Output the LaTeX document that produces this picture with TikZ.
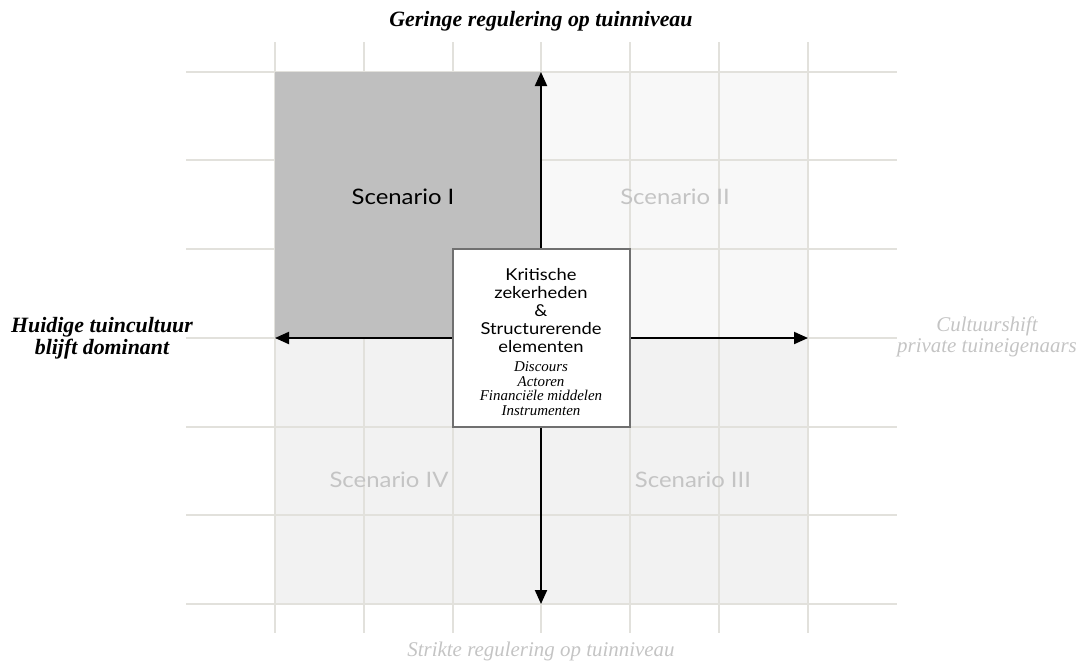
\documentclass[tikz,border=0pt]{standalone}
\usepackage{fontspec}
\setmainfont{Liberation Serif}
\newfontfamily\scenfont[FakeStretch=1.12]{Lato}
\usetikzlibrary{arrows.meta}
\definecolor{gridc}{HTML}{E2E1DC}
\definecolor{darkq}{HTML}{BFBFBF}
\definecolor{lightq}{HTML}{F8F8F8}
\definecolor{lowq}{HTML}{F2F2F2}
\definecolor{fadetext}{HTML}{C4C4C4}
\definecolor{boxline}{HTML}{707070}
\newcommand{\headfont}{\scenfont\upshape\fontsize{12.3}{11}\selectfont}
\newcommand{\listfont}{\rmfamily\itshape\fontsize{11.2}{11}\selectfont}
\tikzset{
  gridline/.style={draw=gridc, line width=1.1pt},
  axis/.style={draw=black, line width=1.5pt, -{Triangle[length=10.5pt,width=9pt]}},
  scen/.style={font=\scenfont\fontsize{16}{18}\selectfont},
  axislabel/.style={font=\bfseries\itshape\fontsize{16.4}{16.5}\selectfont, align=center},
  faintlabel/.style={font=\itshape\fontsize{15.7}{16}\selectfont, text=fadetext, align=center},
  centrebox/.style={draw=boxline, line width=1.5pt, fill=white, minimum width=132.75pt,
    minimum height=133.5pt, inner sep=0pt, align=center, font=\listfont,
    execute at begin node={\lineskiplimit=-20pt}}
}
\begin{document}
\begin{tikzpicture}[x=0.75pt,y=-0.75pt]
\useasboundingbox (0,0) rectangle (1081,662);
% quadrant fills
\fill[lightq] (541,72) rectangle (808,338);
\fill[lowq] (275,338) rectangle (808,604);
% background grid
\foreach \x in {275,364,453,541,630,719,808}
  \draw[gridline] (\x,42) -- (\x,633);
\foreach \y in {72,160,249,338,427,515,604}
  \draw[gridline] (186,\y) -- (897,\y);
% highlighted quadrant
\fill[darkq] (275,72) rectangle (541,338);
% axes
\coordinate (O) at (541,338);
\coordinate (N) at (541,72);
\coordinate (S) at (541,604);
\coordinate (W) at (275,338);
\coordinate (E) at (808,338);
\draw[axis] (O) -- (N);
\draw[axis] (O) -- (S);
\draw[axis] (O) -- (W);
\draw[axis] (O) -- (E);
% scenario labels
\node[scen, text=black] (s1) at (403,197) {Scenario I};
\node[scen, text=fadetext] (s2) at (675,197) {Scenario II};
\node[scen, text=fadetext] (s3) at (693,480) {Scenario III};
\node[scen, text=fadetext] (s4) at (389,480) {Scenario IV};
% centre box: heading lines 13.5pt apart, list lines 11pt apart
\node[centrebox] (core) at (O) {\headfont\rule{0pt}{15pt}Kritische\\[2.5pt] \headfont zekerheden\\[2.5pt] \headfont \&\\[2.5pt]
  \headfont Structurerende\\[2.5pt] \headfont elementen\\[3.25pt]
  Discours\\ Actoren\\ Financiële middelen\\ Instrumenten};
% axis labels
\node[axislabel] (top) at (541,21) {Geringe regulering op tuinniveau};
\node[faintlabel] (bottom) at (541,651) {Strikte regulering op tuinniveau};
\node[axislabel] (left) at (102,338) {Huidige tuincultuur\\ blijft dominant};
\node[faintlabel] (right) at (987,337) {Cultuurshift\\ private tuineigenaars};
\end{tikzpicture}
\end{document}
